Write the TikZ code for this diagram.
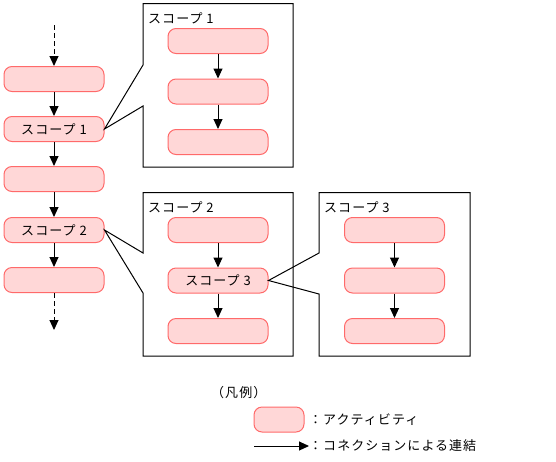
\documentclass[tikz,border=0pt]{standalone}
\usepackage{fontspec}
\setmainfont{Noto Sans CJK JP}[LetterSpace=8]
\usetikzlibrary{arrows.meta}
\definecolor{actfill}{HTML}{FFD7D7}
\definecolor{actdraw}{HTML}{FF6A6A}
\tikzset{
  act/.style={draw=actdraw, fill=actfill, line width=1pt, rounded corners=8pt,
    minimum width=100pt, minimum height=25pt, inner sep=0pt,
    font=\fontsize{13}{15}\selectfont},
  flow/.style={draw=black, line width=1pt, -{Triangle[length=10pt,width=9pt]}},
  dflow/.style={flow, dash pattern=on 5pt off 3pt},
  scopebox/.style={draw=black, line width=1pt},
  lbl/.style={anchor=west, inner sep=0pt, font=\fontsize{13}{15}\selectfont},
}
\begin{document}
\begin{tikzpicture}[x=1pt,y=-1pt]
\useasboundingbox (0,0) rectangle (556,461);
% left column
\coordinate (top) at (54,25);
\node[act] (a1) at (54,79) {};
\node[act] (a2) at (54,129) {スコープ 1};
\node[act] (a3) at (54,179) {};
\node[act] (a4) at (54,230) {スコープ 2};
\node[act] (a5) at (54,280) {};
\coordinate (bot) at (54,330);
\draw[dflow] (top) -- (a1.north);
\draw[flow] (a1) -- (a2);
\draw[flow] (a2) -- (a3);
\draw[flow] (a3) -- (a4);
\draw[flow] (a4) -- (a5);
\draw[dflow] (a5.south) -- (bot);
% scope 1
\draw[scopebox] (a2.east) -- (143,65) -- (143,3.5) -- (293,3.5) -- (293,167) -- (143,167) -- (143,106) -- cycle;
\node[lbl] (l1) at (148,18) {スコープ 1};
\node[act] (b1) at (218,41) {};
\node[act] (b2) at (218,91.5) {};
\node[act] (b3) at (218,142) {};
\draw[flow] (b1) -- (b2);
\draw[flow] (b2) -- (b3);
% scope 2
\draw[scopebox] (a4.east) -- (143,253) -- (143,192.5) -- (293,192.5) -- (293,356) -- (143,356) -- (143,293) -- cycle;
\node[lbl] (l2) at (148,207) {スコープ 2};
\node[act] (c1) at (218,230) {};
\node[act] (c2) at (218,280.5) {スコープ 3};
\node[act] (c3) at (218,331) {};
\draw[flow] (c1) -- (c2);
\draw[flow] (c2) -- (c3);
% scope 3
\draw[scopebox] (c2.east) -- (319,253) -- (319,192.5) -- (470,192.5) -- (470,356) -- (319,356) -- (319,294) -- cycle;
\node[lbl] (l3) at (324,207) {スコープ 3};
\node[act] (d1) at (394.5,230) {};
\node[act] (d2) at (394.5,280.5) {};
\node[act] (d3) at (394.5,331) {};
\draw[flow] (d1) -- (d2);
\draw[flow] (d2) -- (d3);
% legend
\node[lbl] (lg) at (211,393) {（凡例）};
\node[act, minimum width=50pt] (lgact) at (279,419.5) {};
\node[lbl] (lgt1) at (309,419.5) {：アクティビティ};
\coordinate (lga) at (254,446);
\coordinate (lgb) at (309,446);
\draw[flow] (lga) -- (lgb);
\node[lbl] (lgt2) at (309,446) {：コネクションによる連結};
\end{tikzpicture}
\end{document}
